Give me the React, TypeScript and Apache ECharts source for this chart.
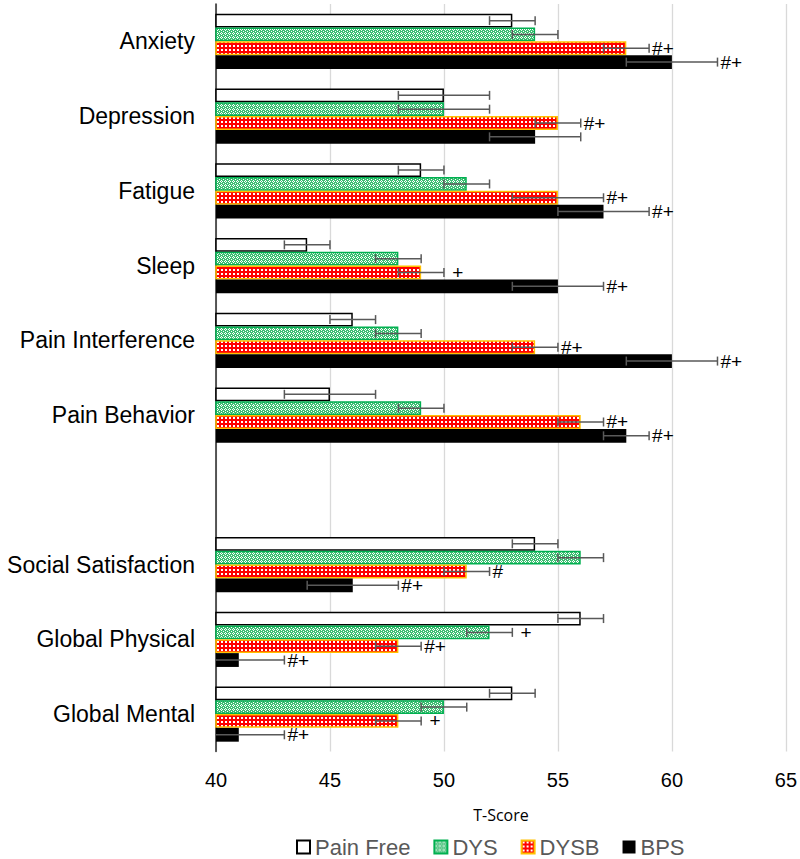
import React, { useEffect, useRef } from "react";
import * as echarts from "echarts";

const categories = [
  "Anxiety",
  "Depression",
  "Fatigue",
  "Sleep",
  "Pain Interference",
  "Pain Behavior",
  "",
  "Social Satisfaction",
  "Global Physical",
  "Global Mental",
];

const seriesNames = ["Pain Free", "DYS", "DYSB", "BPS"];

const painFree = [53, 50, 49, 44, 46, 45, null, 54, 56, 53];
const painFreeErr = [1, 2, 1, 1, 1, 2, null, 1, 1, 1];
const painFreeSig = ["", "", "", "", "", "", "", "", "", ""];

const dys = [54, 50, 51, 48, 48, 49, null, 56, 52, 50];
const dysErr = [1, 2, 1, 1, 1, 1, null, 1, 1, 1];
const dysSig = ["", "", "", "", "", "", "", "", " +", ""];

const dysb = [58, 55, 55, 49, 54, 56, null, 51, 48, 48];
const dysbErr = [1, 1, 2, 1, 1, 1, null, 1, 1, 1];
const dysbSig = ["#+", "#+", "#+", " +", "#+", "#+", "", "#", "#+", " +"];

const bps = [60, 54, 57, 55, 60, 58, null, 46, 41, 41];
const bpsErr = [2, 2, 2, 2, 2, 1, null, 2, 2, 2];
const bpsSig = ["#+", "", "#+", "#+", "#+", "#+", "", "#+", "#+", "#+"];

const xTicks = [40, 45, 50, 55, 60, 65];

const CAT_GAP = 0.26;
const FONT = "'Liberation Sans', Arial, sans-serif";

function makeTile(size: number, bg: string, fg: string, cells: number[][]) {
  const c = document.createElement("canvas");
  c.width = size;
  c.height = size;
  const ctx = c.getContext("2d")!;
  ctx.fillStyle = bg;
  ctx.fillRect(0, 0, size, size);
  ctx.fillStyle = fg;
  cells.forEach(([x, y, w, h]) => ctx.fillRect(x, y, w, h));
  return c;
}

export default function App() {
  const ref = useRef<HTMLDivElement>(null);

  useEffect(() => {
    if (!ref.current) return;
    const chart = echarts.init(ref.current, undefined, { renderer: "svg" });

    const greenTile = makeTile(4, "#3DBE72", "#ffffff", [
      [1, 0, 1, 1],
      [0, 1, 1, 1],
      [2, 1, 1, 1],
      [1, 2, 1, 1],
      [3, 3, 1, 1],
    ]);
    const redTile = makeTile(4, "#FF0000", "#ffffff", [[1, 1, 2, 2]]);

    const values = [painFree, dys, dysb, bps];
    const errs = [painFreeErr, dysErr, dysbErr, bpsErr];
    const sigs = [painFreeSig, dysSig, dysbSig, bpsSig];

    const styles = [
      { color: "#ffffff", borderColor: "#000000", borderWidth: 1.5 },
      { color: { image: greenTile, repeat: "repeat" }, borderColor: "#00B050", borderWidth: 1.5 },
      { color: { image: redTile, repeat: "repeat" }, borderColor: "#FFC000", borderWidth: 1.5 },
      { color: "#000000", borderColor: "#000000", borderWidth: 0 },
    ];

    const barSeries = seriesNames.map((name, gi) => ({
      type: "bar",
      name,
      data: values[gi],
      barGap: "0%",
      barCategoryGap: CAT_GAP * 100 + "%",
      itemStyle: styles[gi],
      z: 2,
    }));

    const errSeries = seriesNames.map((name, gi) => ({
      type: "custom",
      name: name + " err",
      z: 5,
      data: categories.map((_, i) => [i]),
      encode: { y: 0 },
      renderItem: (params: any, api: any) => {
        const ci = api.value(0);
        const v = values[gi][ci];
        const e = errs[gi][ci];
        if (v == null || e == null) return null;
        const low = v - e;
        const high = v + e;
        const band = api.size([0, 1])[1];
        const groupH = band * (1 - CAT_GAP);
        const barH = groupH / 4;
        const center = api.coord([high, ci]);
        const y = center[1] - groupH / 2 + barH * (gi + 0.5);
        const xHigh = center[0];
        const xLowRaw = api.coord([Math.max(low, 40), ci])[0];
        const cap = 4.5;
        const lineStyle = { stroke: "#595959", lineWidth: 1.5 };
        const children: any[] = [
          { type: "line", shape: { x1: xLowRaw, y1: y, x2: xHigh, y2: y }, style: lineStyle },
          { type: "line", shape: { x1: xHigh, y1: y - cap, x2: xHigh, y2: y + cap }, style: lineStyle },
        ];
        if (low >= 40) {
          children.push({
            type: "line",
            shape: { x1: xLowRaw, y1: y - cap, x2: xLowRaw, y2: y + cap },
            style: lineStyle,
          });
        }
        const s = sigs[gi][ci];
        if (s) {
          children.push({
            type: "text",
            x: xHigh + 3,
            y: y,
            style: {
              text: s,
              fill: "#000000",
              font: "19px " + FONT,
              textVerticalAlign: "middle",
              verticalAlign: "middle",
              align: "left",
            },
          });
        }
        return { type: "group", children };
      },
    }));

    chart.setOption({
      animation: false,
      backgroundColor: "#ffffff",
      textStyle: { fontFamily: FONT },
      grid: { left: 216, right: 13, top: 4, bottom: 107.6, containLabel: false },
      xAxis: {
        type: "value",
        min: xTicks[0],
        max: xTicks[xTicks.length - 1],
        interval: 5,
        axisLine: { show: false },
        axisTick: { show: false },
        splitLine: { show: true, lineStyle: { color: "#D9D9D9", width: 1.3 } },
        axisLabel: { fontSize: 20, color: "#000000", margin: 19, fontFamily: FONT },
        name: "T-Score",
        nameLocation: "middle",
        nameGap: 56,
        nameTextStyle: { fontSize: 16, color: "#000000", fontFamily: "'Open Sans', sans-serif" },
      },
      yAxis: {
        type: "category",
        data: categories,
        inverse: true,
        axisTick: { show: false },
        axisLine: { show: true, lineStyle: { color: "#262626", width: 1.5 } },
        axisLabel: { fontSize: 23, color: "#000000", margin: 21, fontFamily: FONT },
      },
      legend: {
        data: seriesNames,
        left: 296,
        top: 836,
        padding: 0,
        icon: "rect",
        itemWidth: 13,
        itemHeight: 13,
        itemGap: 23,
        textStyle: { fontSize: 22, color: "#595959", fontFamily: FONT },
      },
      series: [...barSeries, ...errSeries],
    });

    return () => chart.dispose();
  }, []);

  return (
    <div
      ref={ref}
      style={{ position: "fixed", left: 0, top: 0, width: 800, height: 859, background: "#fff" }}
    />
  );
}
